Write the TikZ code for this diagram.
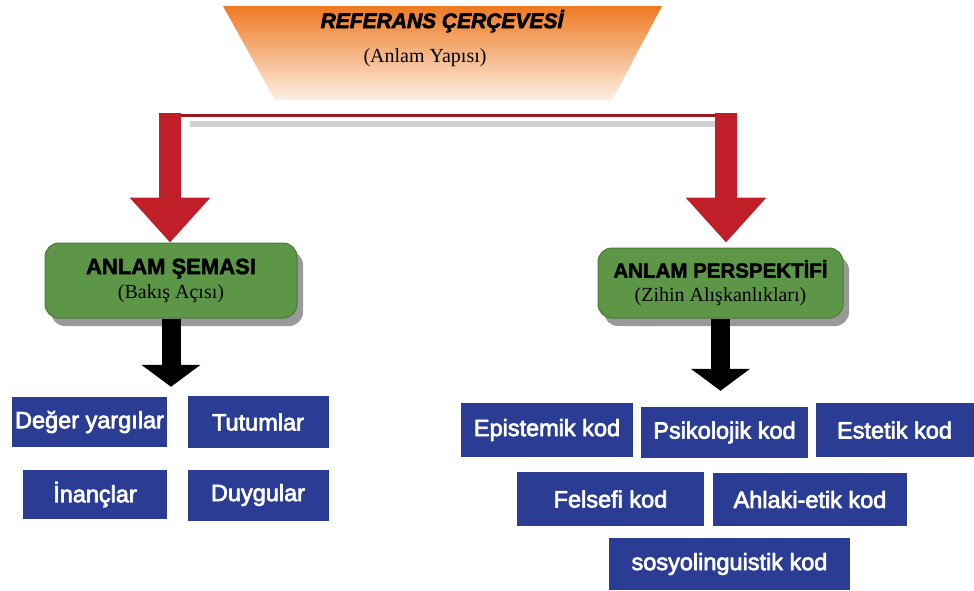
\documentclass[tikz,border=0pt]{standalone}
\usepackage{fontspec}
\setmainfont{Liberation Serif}
\newfontfamily\kutufont[FakeBold=3]{Liberation Sans}
\newfontfamily\basfont[BoldFeatures={FakeBold=2},BoldItalicFeatures={FakeBold=3}]{Liberation Sans}
\usetikzlibrary{arrows.meta,shadows}
\definecolor{kodmavi}{RGB}{42,60,148}
\definecolor{semayesil}{RGB}{92,150,70}
\definecolor{okkirmizi}{RGB}{192,30,40}
\definecolor{baslikturuncu}{RGB}{238,122,34}
\begin{document}
\begin{tikzpicture}[x=1pt,y=-1pt,line join=round]
	\useasboundingbox (0,0) rectangle (974,590);
	\tikzset{kutu/.style={fill=kodmavi,text=white,inner sep=0pt,font=\kutufont\fontsize{23.5}{23.5}\selectfont},
		sema/.style={fill=semayesil,draw=semayesil!80!black,line width=1pt,rounded corners=14pt,align=center,inner sep=0pt,
			drop shadow={shadow xshift=6pt,shadow yshift=-8pt,opacity=0.5,fill=black!80}},
		kirmiziok/.style={okkirmizi,line width=22pt,line cap=butt,-{Triangle[width=78pt,length=45pt]}},
		siyahok/.style={black,line width=19pt,line cap=butt,-{Triangle[width=58pt,length=22pt]}}}
	\shade[top color=baslikturuncu,middle color=baslikturuncu!80,bottom color=baslikturuncu!12] (223,6) -- (662,6) -- (612,100) -- (275,100) -- cycle;
	\node[anchor=base,font=\basfont\bfseries\itshape\fontsize{21}{21}\selectfont] (baslik) at (442,28) {REFERANS ÇERÇEVESİ};
	\node[anchor=base,font=\fontsize{20}{20}\selectfont] (yapi) at (425,62) {(Anlam Yapısı)};
	\node[sema,minimum width=252pt,minimum height=75pt,font=\basfont\bfseries\fontsize{22}{24}\selectfont] (sema) at (171,280.5)
		{ANLAM ŞEMASI\\\rmfamily\mdseries\fontsize{20}{24}\selectfont (Bakış Açısı)};
	\node[sema,minimum width=245pt,minimum height=70pt,font=\basfont\bfseries\fontsize{20.5}{24}\selectfont] (persp) at (720.5,283)
		{ANLAM PERSPEKTİFİ\\\rmfamily\mdseries\fontsize{20}{24}\selectfont (Zihin Alışkanlıkları)};
	\foreach \n/\x/\y/\w/\h/\t in {deger/89.5/422/155/50/Değer yargılar,tutum/258/422/141/52/Tutumlar,
		inanc/95/494.5/144/49/İnançlar,duygu/258/495/141/51/Duygular,
		epist/547/430/172/54/Epistemik kod,psiko/724.5/432.5/167/51/Psikolojik kod,estet/894.5/430/158/54/Estetik kod,
		felse/610.5/499/187/54/Felsefi kod,ahlak/810/499.5/194/53/Ahlaki-etik kod,sosyo/729.5/564/241/52/sosyolinguistik kod}
		{\node[kutu,minimum width=\w pt,minimum height=\h pt] (\n) at (\x,\y) {\t};}
	\coordinate (sol) at (170,113);
	\coordinate (sag) at (726,113);
	\draw[black!30,line width=6pt,opacity=0.6] ([shift={(20,11)}]sol) -- ([shift={(-11,11)}]sag);
	\draw[okkirmizi!80!black,line width=3pt] ([yshift=-2pt]sol) -- ([yshift=-2pt]sag);
	\draw[kirmiziok] (sol) -- (sol |- sema.north);
	\draw[kirmiziok] (sag) -- ([yshift=5pt]sag |- persp.north);
	\draw[siyahok] (sema.south) -- ([yshift=10pt]sema.south |- deger.north);
	\draw[siyahok] (persp.south) -- ([yshift=12pt]persp.south |- epist.north);
\end{tikzpicture}
\end{document}
